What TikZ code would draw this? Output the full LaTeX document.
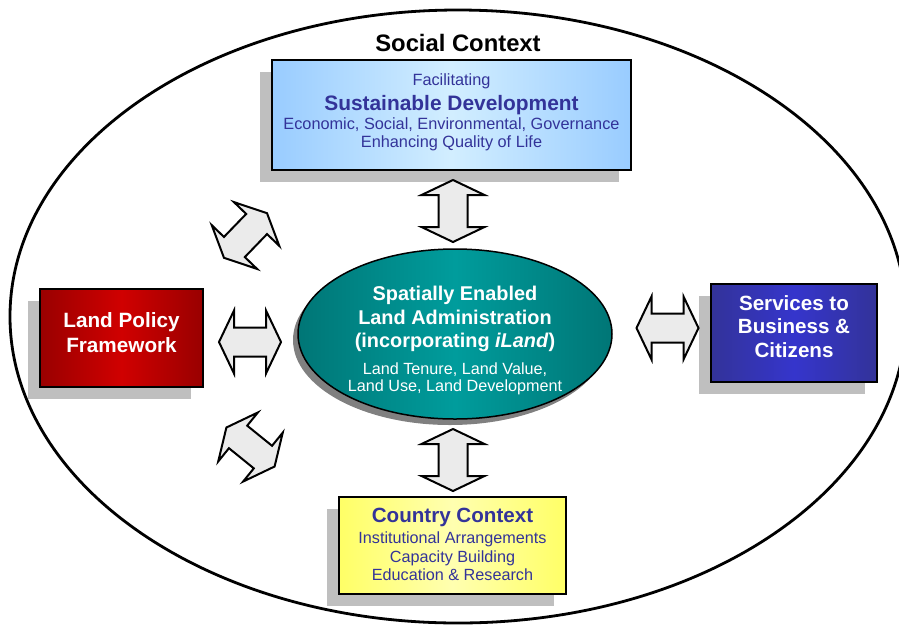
\documentclass[tikz,border=0pt]{standalone}
\usepackage{fontspec}
\setmainfont{Liberation Sans}
\usetikzlibrary{shadows,shapes.geometric}
\definecolor{txtblue}{HTML}{333399}
\definecolor{skyedge}{HTML}{99CCFF}
\definecolor{skymid}{HTML}{D2EEFF}
\definecolor{rededge}{HTML}{990000}
\definecolor{redmid}{HTML}{D00000}
\definecolor{blueedge}{HTML}{333399}
\definecolor{bluemid}{HTML}{3535CC}
\definecolor{yeledge}{HTML}{FFFF66}
\definecolor{yelmid}{HTML}{FFFFB0}
\definecolor{tealedge}{HTML}{007676}
\definecolor{tealmid}{HTML}{009C9C}
\definecolor{arrowfill}{HTML}{EBEBEB}
\definecolor{shadowgray}{HTML}{BFBFBF}
\tikzset{
  boxnode/.style={draw=black, line width=2pt, inner sep=0pt,
    drop shadow={shadow xshift=-12pt, shadow yshift=-12pt, fill=shadowgray, opacity=1}},
  txtnode/.style={inner sep=0pt, align=center},
  blockarrow/.style={draw=black, line width=2pt, fill=arrowfill, line join=miter},
  dblarrow/.pic={\path[blockarrow] (-31,0) -- (-16,31.5) -- (-16,14.5) -- (16,14.5) -- (16,31.5)
      -- (31,0) -- (16,-31.5) -- (16,-14.5) -- (-16,-14.5) -- (-16,-31.5) -- cycle;}
}
\begin{document}
\begin{tikzpicture}[x=1pt,y=-1pt]
\useasboundingbox (0,0) rectangle (899,625);
% outer ellipse
\draw[line width=2.8pt] (458,316.5) ellipse [x radius=448, y radius=306.5];
\node[txtnode, anchor=base, font=\bfseries\fontsize{23.8}{28}\selectfont] (social) at (458,51.7) {Social Context};

% top box
\node[boxnode, minimum width=359pt, minimum height=110pt,
  left color=skyedge, right color=skyedge, middle color=skymid] (sd) at (451.5,115) {};
\node[txtnode, text=txtblue, font=\fontsize{16.3}{18}\selectfont] (sdtext) at (451.5,112.2)
 {Facilitating\\[5.6pt]
  {\bfseries\fontsize{20.9}{18}\selectfont Sustainable Development}\\[1.4pt]
  Economic, Social, Environmental, Governance\\
  Enhancing Quality of Life};

% central ellipse
\node[ellipse, draw=black, line width=1.5pt, minimum width=314pt, minimum height=170pt, inner sep=0pt,
  left color=tealedge, right color=tealedge, middle color=tealmid,
  drop shadow={shadow xshift=-5pt, shadow yshift=-6pt, fill=black!50, opacity=1}] (sela) at (455,334) {};
\node[txtnode, text=white, font=\fontsize{16.2}{17}\selectfont] (selatext) at (455,340.5)
 {{\bfseries\fontsize{19.9}{17}\selectfont Spatially Enabled}\\[4pt]
  {\bfseries\fontsize{19.9}{17}\selectfont Land Administration}\\[6pt]
  {\bfseries\fontsize{19.9}{17}\selectfont (incorporating \textit{iLand})}\\[10pt]
  Land Tenure, Land Value,\\
  Land Use, Land Development};

% left box
\node[boxnode, minimum width=163pt, minimum height=98pt,
  left color=rededge, right color=rededge, middle color=redmid] (lpf) at (121.5,338) {};
\node[txtnode, text=white, font=\bfseries\fontsize{20.7}{25}\selectfont] (lpftext) at (121.5,332.6)
 {Land Policy\\Framework};

% right box
\node[boxnode, minimum width=166pt, minimum height=98pt,
  left color=blueedge, right color=blueedge, middle color=bluemid] (sbc) at (794,333) {};
\node[txtnode, text=white, font=\bfseries\fontsize{20.6}{23.5}\selectfont] (sbctext) at (794,326.2)
 {Services to\\Business \&\\Citizens};

% bottom box
\node[boxnode, minimum width=227pt, minimum height=97pt,
  left color=yeledge, right color=yeledge, middle color=yelmid] (cc) at (452.5,545.5) {};
\node[txtnode, text=txtblue, font=\fontsize{16.2}{18}\selectfont] (cctext) at (452.5,544.5)
 {{\bfseries\fontsize{20.6}{18}\selectfont Country Context}\\[3pt]
  Institutional Arrangements\\[0.7pt]
  Capacity Building\\
  Education \& Research};

% block arrows
\pic[rotate=90] at (453,211) {dblarrow};
\pic[rotate=90] at (453,460) {dblarrow};
\pic at (250,342) {dblarrow};
\pic at (667.5,328) {dblarrow};
\pic[rotate=46] at (245.5,235.5) {dblarrow};
\pic[rotate=-39] at (250.5,447) {dblarrow};
\end{tikzpicture}
\end{document}
